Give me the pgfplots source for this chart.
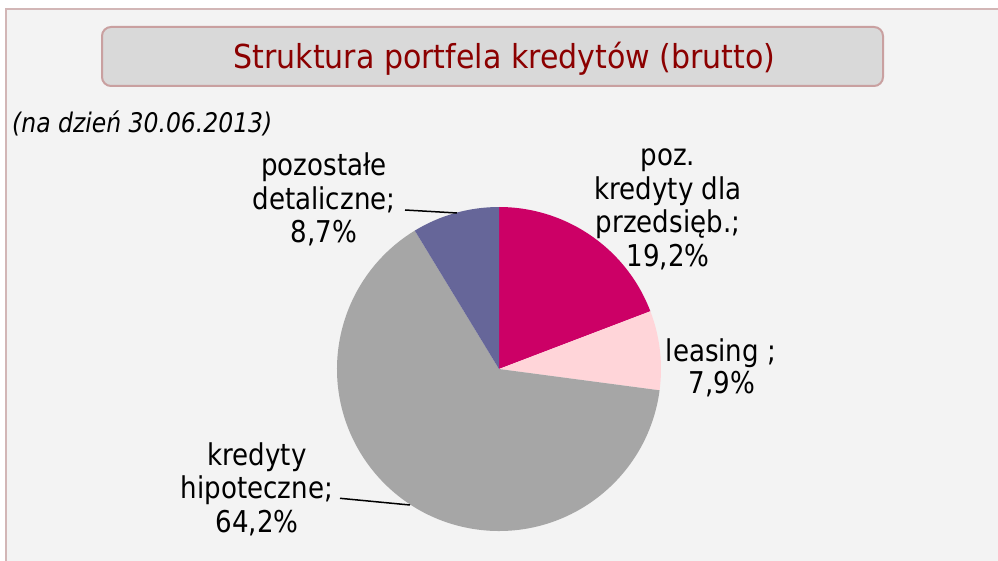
\documentclass[border=0pt]{standalone}
\usepackage{pgfplots}
\pgfplotsset{compat=1.18}
\usepackage{pgfplotstable}
\usepackage{fontspec}
\setmainfont{DejaVu Sans}
\newfontfamily\titlefont[FakeStretch=0.91]{DejaVu Sans}
\newfontfamily\lblfont[FakeStretch=0.87]{DejaVu Sans}
\newfontfamily\subfont[FakeStretch=0.87]{DejaVu Sans}
\definecolor{cMag}{HTML}{CC0066}
\definecolor{cPink}{HTML}{FFD5D9}
\definecolor{cGray}{HTML}{A6A6A6}
\definecolor{cBlue}{HTML}{666699}
\definecolor{bgc}{HTML}{F3F3F3}
\definecolor{framec}{HTML}{D2B6B6}
\definecolor{boxfill}{HTML}{D9D9D9}
\definecolor{boxdraw}{HTML}{C9A0A0}
\definecolor{titlec}{HTML}{8B0000}
\pgfplotstableread{
value
19.2
7.9
64.2
8.7
}\piedata
\begin{document}
\begin{tikzpicture}
\useasboundingbox (0pt,0pt) rectangle (998pt,560pt);
\clip (0pt,0pt) rectangle (998pt,560pt);
\fill[white] (0pt,0pt) rectangle (998pt,560pt);
\fill[bgc] (6pt,-10pt) rectangle (1010pt,551pt);
\draw[framec, line width=2pt] (6pt,-10pt) -- (6pt,551pt) -- (1010pt,551pt);
% title box
\draw[boxdraw, fill=boxfill, line width=2pt, rounded corners=9pt] (102pt,474pt) rectangle (883pt,533pt);
\node[anchor=base, inner sep=0pt, text=titlec] at (504.5pt,491pt) {\titlefont\fontsize{33}{38}\selectfont Struktura portfela kredytów (brutto)};
\node[anchor=base west, inner sep=0pt] at (12pt,427pt) {\subfont\itshape\fontsize{27}{32}\selectfont (na dzień 30.06.2013)};
\begin{axis}[at={(499pt,191pt)}, anchor=center, width=324pt, height=324pt, scale only axis,
  xmin=-1, xmax=1, ymin=-1, ymax=1, hide axis, clip=false]
\addplot[draw=none] coordinates {(0,0)};
\gdef\startang{90}
\foreach \i/\col in {0/cMag,1/cPink,2/cGray,3/cBlue}{
  \pgfplotstablegetelem{\i}{value}\of\piedata
  \pgfmathsetmacro\endang{\startang-3.6*\pgfplotsretval}
  \edef\doslice{\noexpand\fill[\col] (axis cs:0,0) -- ([shift={(\startang:162pt)}]axis cs:0,0) arc[start angle=\startang, end angle=\endang, radius=162pt] -- cycle;}
  \doslice
  \global\let\startang\endang
}
\end{axis}
% leader lines
\draw[black, line width=1.5pt] (405pt,350pt) -- (457pt,347pt);
\draw[black, line width=1.5pt] (340pt,61.7pt) -- (410pt,55pt);
% labels
\begin{scope}[every node/.style={anchor=base, inner sep=0pt, font=\lblfont\fontsize{30}{34}\selectfont}]
\node at (668pt,394pt) {poz.};
\node at (668pt,360.5pt) {kredyty dla};
\node at (668pt,327pt) {przedsięb.;};
\node at (668pt,293.5pt) {19,2\%};
\node at (721pt,198.5pt) {leasing ;};
\node at (722pt,167pt) {7,9\%};
\node at (324pt,384pt) {pozostałe};
\node at (324pt,350.5pt) {detaliczne;};
\node at (324pt,317pt) {8,7\%};
\node at (257pt,95pt) {kredyty};
\node at (257pt,61.5pt) {hipoteczne;};
\node at (257pt,28pt) {64,2\%};
\end{scope}
\end{tikzpicture}
\end{document}
